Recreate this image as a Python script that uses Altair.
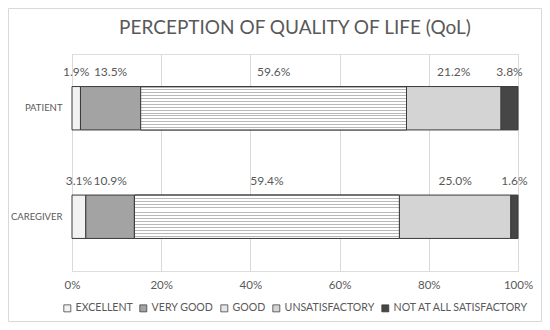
import altair as alt
import pandas as pd

groups = ["PATIENT", "CAREGIVER"]
categories = ["EXCELLENT", "VERY GOOD", "GOOD", "UNSATISFACTORY", "NOT AT ALL SATISFACTORY"]
patient_pct = [1.9, 13.5, 59.6, 21.2, 3.8]
caregiver_pct = [3.1, 10.9, 59.4, 25.0, 1.6]
fill_colors = ["#f2f2f2", "#a3a3a3", "#e6e6e6", "#d4d4d4", "#464646"]
x_ticks = [0, 20, 40, 60, 80, 100]

rows = []
for g, vals in zip(groups, [patient_pct, caregiver_pct]):
    for i, (c, v) in enumerate(zip(categories, vals)):
        rows.append({"group": g, "category": c, "order": i, "value": v})
df = pd.DataFrame(rows)

FONT = "Lato"
TXT = "#595959"
EDGE = "#3a3a3a"

# horizontal stripe texture for GOOD
n = 15
stops = []
for i in range(n):
    a = i / n
    b = (i + 0.33) / n
    c = (i + 1) / n
    stops += [
        {"offset": a, "color": "#b8b8b8"},
        {"offset": b, "color": "#b8b8b8"},
        {"offset": b, "color": "#ffffff"},
        {"offset": c, "color": "#ffffff"},
    ]
stripes_fill = {"gradient": "linear", "x1": 0, "y1": 0, "x2": 0, "y2": 1, "stops": stops}

base = alt.Chart(df).transform_stack(
    stack="value", as_=["x0", "x1"], groupby=["group"], sort=[alt.SortField("order")]
).transform_calculate(
    mid="(datum.x0 + datum.x1) / 2",
    label="format(datum.value, '.1f') + '%'",
)

y_enc = alt.Y(
    "group:N", sort=groups,
    scale=alt.Scale(paddingInner=0.6, paddingOuter=0.3),
    axis=alt.Axis(title=None, ticks=False, domain=False, labelFont=FONT, labelFontSize=9.5,
                  labelColor=TXT, labelPadding=10),
)
x_enc = alt.X(
    "x0:Q", scale=alt.Scale(domain=[0, 100]),
    axis=alt.Axis(title=None, values=x_ticks, labelExpr="datum.value + '%'", ticks=False,
                  domain=False, grid=True, gridColor="#d9d9d9", labelFont=FONT,
                  labelFontSize=11.5, labelColor=TXT, labelPadding=8, labelFlush=False),
)

bars = base.mark_bar(stroke=EDGE, strokeWidth=1).encode(
    x=x_enc, x2="x1:Q", y=y_enc,
    color=alt.Color(
        "category:N", sort=categories,
        scale=alt.Scale(domain=categories, range=fill_colors),
        legend=alt.Legend(title=None, orient="none", legendX=-10, legendY=249,
                          direction="horizontal", symbolType="square", symbolSize=49,
                          symbolStrokeColor=EDGE, symbolStrokeWidth=0.75,
                          labelFont=FONT, labelFontSize=10.6, labelColor=TXT,
                          columnPadding=5, labelOffset=3),
    ),
)

stripes = base.transform_filter(alt.datum.category == "GOOD").mark_bar(
    fill=stripes_fill, stroke=EDGE, strokeWidth=1
).encode(x="x0:Q", x2="x1:Q", y=alt.Y("group:N", sort=groups))

labels = base.mark_text(dy=-36, baseline="middle", font=FONT, fontSize=12, color=TXT).encode(
    x="mid:Q", y=alt.Y("group:N", sort=groups), text="label:N"
)

frame = alt.Chart(pd.DataFrame({"f": [0]})).mark_rect(
    fillOpacity=0, stroke="#d9d9d9", strokeWidth=1
).encode(x=alt.value(-63.5), x2=alt.value(469.5), y=alt.value(-45.5), y2=alt.value(267.5))

chart = alt.layer(frame, bars, stripes, labels).properties(
    width=446, height=217,
    autosize=alt.AutoSizeParams(type="none"),
    padding={"left": 64, "top": 46, "right": 24, "bottom": 51},
    title=alt.Title("PERCEPTION OF QUALITY OF LIFE (QoL)", font=FONT, fontSize=19,
                    fontWeight="normal", color=TXT, anchor="middle", offset=-30),
).configure_view(stroke=None).configure(background="white")

chart.save("out.html", embed_options={"renderer": "svg", "actions": False})
